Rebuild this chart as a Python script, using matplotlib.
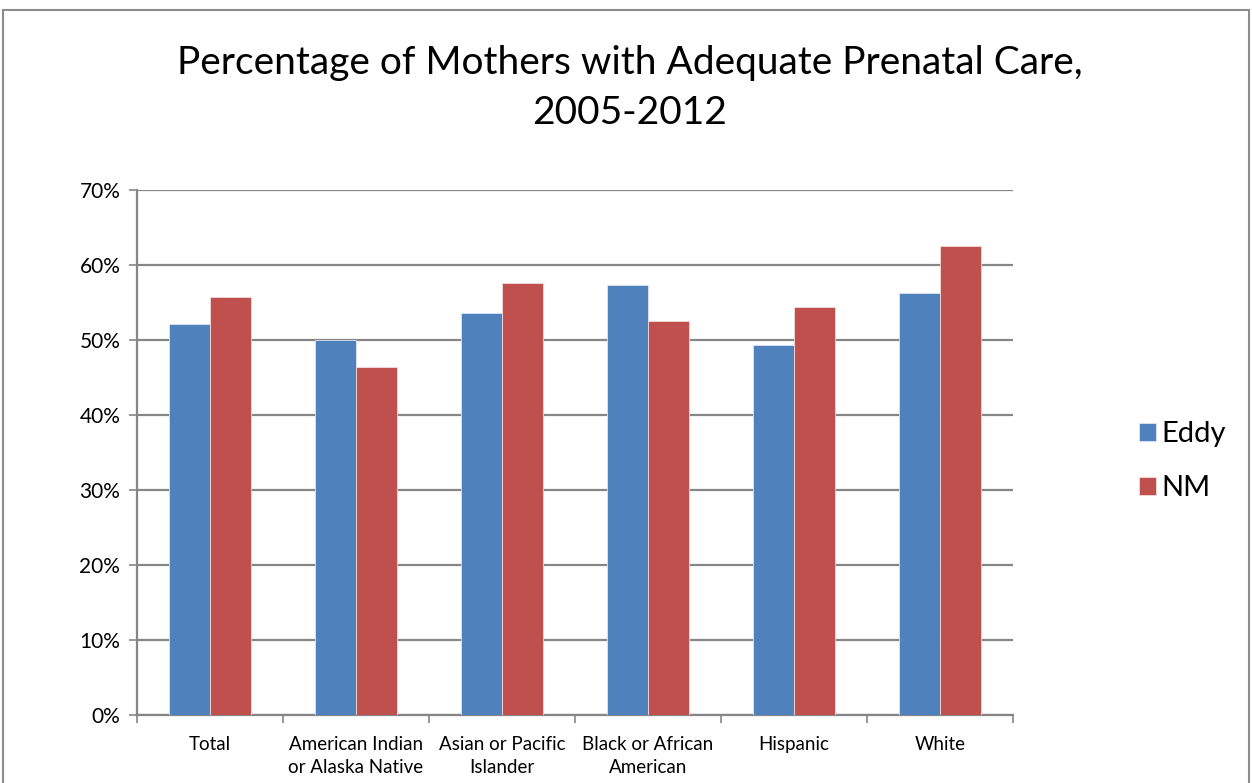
import numpy as np
import matplotlib.pyplot as plt
from matplotlib.patches import Rectangle
from matplotlib.ticker import PercentFormatter

plt.rcParams['font.family'] = ['Lato', 'DejaVu Sans']

# Data
categories = ['Total', 'American Indian\nor Alaska Native', 'Asian or Pacific\nIslander',
              'Black or African\nAmerican', 'Hispanic', 'White']
eddy = [52.2, 50.0, 53.6, 57.3, 49.3, 56.3]
nm = [55.7, 46.4, 57.6, 52.5, 54.4, 62.6]

blue = '#4F81BD'
red = '#C0504D'
grid_col = '#868686'

fig = plt.figure(figsize=(12.52, 7.83), dpi=100)
ax = fig.add_axes([0.1094, 0.0868, 0.6997, 0.6705])

x = np.arange(len(categories))
w = 0.28
ax.bar(x - w / 2, eddy, width=w, color=blue, edgecolor='#dce6f2', linewidth=0.6, label='Eddy', zorder=3)
ax.bar(x + w / 2, nm, width=w, color=red, edgecolor='#f2dcdb', linewidth=0.6, label='NM', zorder=3)

ax.set_xlim(-0.5, len(categories) - 0.5)
ax.set_ylim(0, 70)
ax.set_yticks(range(0, 71, 10))
ax.yaxis.set_major_formatter(PercentFormatter(decimals=0))
ax.yaxis.grid(True, color=grid_col, linewidth=1.6, zorder=0)

ax.set_xticks(x)
ax.set_xticklabels(categories, fontsize=13.5, linespacing=1.45, va='top')
ax.set_xticks(np.arange(-0.5, len(categories), 1), minor=True)
ax.tick_params(axis='x', which='major', length=0, pad=15)
ax.tick_params(axis='x', which='minor', length=6, width=1.2, color=grid_col)
ax.tick_params(axis='y', length=6, width=1.2, color=grid_col, labelsize=15, pad=6)

for side in ['top', 'right']:
    ax.spines[side].set_visible(False)
for side in ['left', 'bottom']:
    ax.spines[side].set_color(grid_col)
    ax.spines[side].set_linewidth(1.6)

fig.suptitle('Percentage of Mothers with Adequate Prenatal Care,\n2005-2012',
             fontsize=28, x=0.503, y=0.943, linespacing=1.5)

leg = fig.legend(loc='center left', bbox_to_anchor=(0.889, 0.411), frameon=False,
                 fontsize=21, handlelength=0.57, handleheight=0.57, labelspacing=0.95,
                 handletextpad=0.2)

# outer chart border
fig.patches.append(Rectangle((3 / 1252, -0.05), 1246 / 1252, 1.05 - 10 / 783,
                             transform=fig.transFigure, fill=False,
                             edgecolor='#8c8c8c', linewidth=1.5))

fig.savefig('out.png', dpi=100)
